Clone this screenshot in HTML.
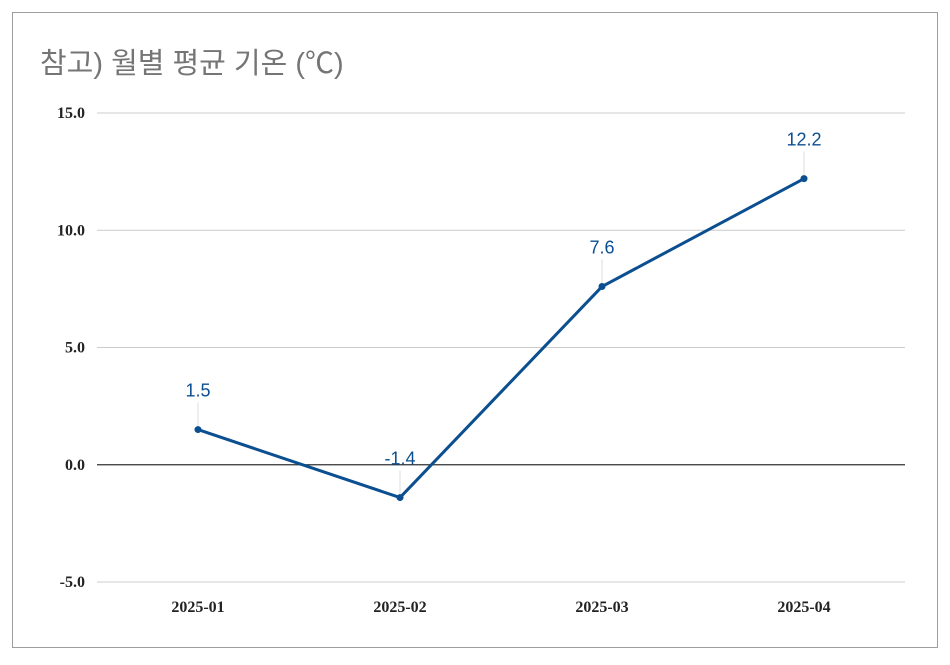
<!DOCTYPE html>
<html><head><meta charset="utf-8"><style>
body{margin:0;background:#fff;}
svg text{font-family:"Liberation Sans","Noto Sans CJK KR",sans-serif;}
</style></head><body>
<svg width="950" height="660" xmlns="http://www.w3.org/2000/svg">
<rect x="12.5" y="12.5" width="925" height="635" fill="#fff" stroke="#9e9e9e"/>
<text x="40" y="73" font-size="29" fill="#757575" style="font-family:'Liberation Sans','Noto Sans CJK KR',sans-serif">참고) 월별 평균 기온 (℃)</text>
<g id="grid"></g><g id="xl"></g><g id="series"></g>
</svg>
<script>
const categories=["2025-01","2025-02","2025-03","2025-04"];
const values=[1.5,-1.4,7.6,12.2];
const valueLabels=["1.5","-1.4","7.6","12.2"];
const yTicks=[-5,0,5,10,15];
const yTickLabels=["-5.0","0.0","5.0","10.0","15.0"];
const NS="http://www.w3.org/2000/svg";
const L=97,R=905,yMin=-5,yMax=15,yTop=113,yBot=582;
const y=v=>yBot-(v-yMin)/(yMax-yMin)*(yBot-yTop);
const bw=(R-L)/categories.length;
const x=i=>L+bw*(i+0.5);
function mk(t,a,p){const e=document.createElementNS(NS,t);for(const k in a)e.setAttribute(k,a[k]);p.appendChild(e);return e;}
const g=document.getElementById('grid');
yTicks.forEach((v,i)=>{
 const ln=mk('line',{x1:L,x2:R,y1:y(v),y2:y(v),stroke:v===0?'#333':'#ccc','stroke-width':v===0?1.3:1},g);
 
 
 const t=mk('text',{x:85,y:y(v)+5,'text-anchor':'end','font-size':16,'font-weight':'bold',fill:'#222',style:"font-family:'Liberation Serif',serif"},g);
 t.textContent=yTickLabels[i];
 
 
});
const xl=document.getElementById('xl');
categories.forEach((c,i)=>{
 const t=mk('text',{x:x(i),y:612,'text-anchor':'middle','font-size':16,'font-weight':'bold',fill:'#222',style:"font-family:'Liberation Serif',serif"},xl);
 t.textContent=c;
 
 
});
const s=document.getElementById('series');
values.forEach((v,i)=>{
 const ll=mk('line',{x1:x(i),x2:x(i),y1:y(v),y2:y(v)-27,stroke:'#ddd','stroke-width':1},s);
 
 
});
const pl=mk('polyline',{points:values.map((v,i)=>x(i)+','+y(v)).join(' '),fill:'none',stroke:'#0b4f91','stroke-width':3,'stroke-linejoin':'round'},s);


values.forEach((v,i)=>{
 const c=mk('circle',{cx:x(i),cy:y(v),r:3.5,fill:'#0b4f91'},s);
 
 
 const t=mk('text',{x:x(i),y:y(v)-33,'text-anchor':'middle','font-size':18,fill:'#0b4f91'},s);
 t.textContent=valueLabels[i];
 
 
});
</script>
</body></html>
